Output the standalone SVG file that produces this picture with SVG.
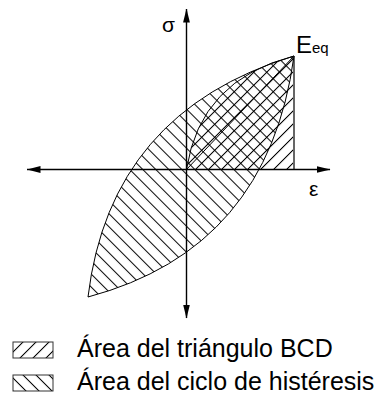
<svg xmlns="http://www.w3.org/2000/svg" width="390" height="410" viewBox="0 0 390 410">
<style>
.t{font-family:"Liberation Sans",Arial,sans-serif;fill:#000}
.ol{fill:none;stroke:#000;stroke-width:1}
.ax{fill:none;stroke:#000;stroke-width:1.4}
</style>
<defs>
<pattern id="hb" patternUnits="userSpaceOnUse" width="9.2" height="9.2" patternTransform="rotate(45)">
<line x1="0" y1="0.5" x2="9.2" y2="0.5" stroke="#000" stroke-width="1"/>
</pattern>
<pattern id="hf" patternUnits="userSpaceOnUse" width="9.2" height="9.2" patternTransform="rotate(-45)">
<line x1="0" y1="0.5" x2="9.2" y2="0.5" stroke="#000" stroke-width="1"/>
</pattern>
<marker id="ar" viewBox="0 0 14 8" refX="13.5" refY="4" markerWidth="14" markerHeight="8" markerUnits="userSpaceOnUse" orient="auto-start-reverse">
<path d="M0,0.6 L14,4 L0,7.4 Z" fill="#000"/>
</marker>
</defs>
<g id="hysteresis">
<path d="M88,297 Q110,112 294,56 Q268,249 88,297 Z" fill="url(#hb)" stroke="none"/>
</g>
<g id="triangle">
<path d="M186.5,169.5 Q200,80 294,56 L294,169.5 Z" fill="url(#hf)" stroke="none"/>
<path d="M186.5,169.5 Q200,80 294,56" class="ol"/>
<line x1="186.5" y1="169.5" x2="294" y2="56" stroke="#000" stroke-width="1"/>
<line x1="294" y1="56" x2="294" y2="169.5" stroke="#666" stroke-width="2"/>
</g>
<g id="loop">
<path d="M88,297 Q110,112 294,56 Q268,249 88,297 Z" class="ol"/>
</g>
<g id="connectors">
<line x1="27" y1="169.5" x2="330" y2="169.5" class="ax" marker-start="url(#ar)" marker-end="url(#ar)"/>
<line x1="186.5" y1="318" x2="186.5" y2="9" class="ax" marker-start="url(#ar)" marker-end="url(#ar)"/>
</g>
<g id="labels">
<text class="t" x="162" y="32" font-size="21">σ</text>
<text class="t" x="296" y="53" font-size="24">E<tspan font-size="15">eq</tspan></text>
<text class="t" x="309" y="196" font-size="21">ε</text>
</g>
<g id="legend-triangle">
<rect x="13" y="342" width="40" height="16" fill="url(#hf)" stroke="#333" stroke-width="1"/>
<text class="t" x="77" y="357" font-size="25">Área del triángulo BCD</text>
</g>
<g id="legend-loop">
<rect x="13" y="375" width="40" height="16" fill="url(#hb)" stroke="#333" stroke-width="1"/>
<text class="t" x="77" y="390" font-size="25">Área del ciclo de histéresis</text>
</g>
</svg>
